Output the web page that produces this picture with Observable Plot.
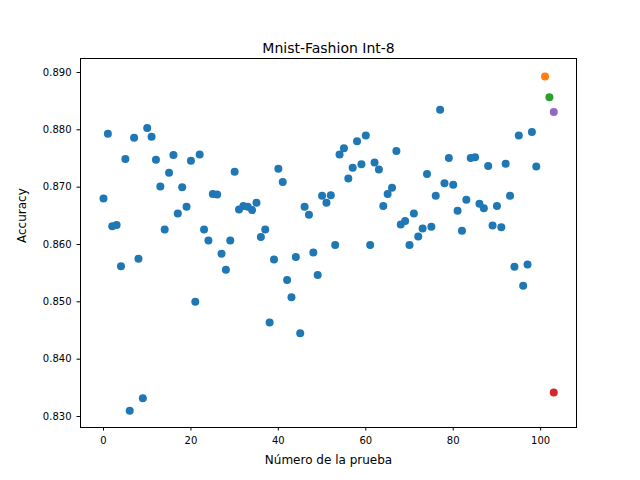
<!DOCTYPE html>
<html><head><meta charset="utf-8">
<script src="https://cdn.jsdelivr.net/npm/d3@7"></script>
<script src="https://cdn.jsdelivr.net/npm/@observablehq/plot@0.6"></script>
<style>body{margin:0;background:#fff}</style>
</head><body><div id="chart"></div>
<script>
const blueAcc = [0.868,0.8793,0.8632,0.8634,0.8562,0.8749,0.8310,0.8786,0.8575,0.8332,
0.8803,0.8788,0.8748,0.8701,0.8626,0.8725,0.8756,0.8654,0.8700,0.8666,
0.8746,0.8500,0.8757,0.8626,0.8607,0.8688,0.8687,0.8584,0.8556,0.8607,
0.8727,0.8661,0.8667,0.8666,0.8660,0.8673,0.8613,0.8626,0.8464,0.8574,
0.8732,0.8709,0.8538,0.8508,0.8578,0.8445,0.8666,0.8652,0.8586,0.8547,
0.8685,0.8673,0.8686,0.8599,0.8757,0.8768,0.8715,0.8734,0.8780,0.8740,
0.8790,0.8599,0.8743,0.8731,0.8667,0.8688,0.8699,0.8763,0.8635,0.8641,
0.8599,0.8654,0.8614,0.8628,0.8723,0.8631,0.8685,0.8835,0.8707,0.8751,
0.8704,0.8659,0.8624,0.8678,0.8751,0.8752,0.8671,0.8663,0.8737,0.8633,
0.8667,0.8630,0.8741,0.8685,0.8561,0.8790,0.8528,0.8565,0.8796,0.8736];
const specialX = [101, 102, 103, 103];
const specialAcc = [0.8893, 0.8857, 0.8831, 0.8342];
const specialColor = ["#ff7f0e", "#2ca02c", "#9467bd", "#d62728"];
const xTicks = [0, 20, 40, 60, 80, 100];
const yTicks = [0.83, 0.84, 0.85, 0.86, 0.87, 0.88, 0.89];

const blue = blueAcc.map((y, i) => ({x: i, y}));
const special = specialX.map((x, i) => ({x, y: specialAcc[i], c: specialColor[i]}));

const chart = Plot.plot({
  width: 640, height: 480,
  marginLeft: 80, marginRight: 64, marginTop: 58, marginBottom: 53,
  style: {fontFamily: "DejaVu Sans", fontSize: "10px", background: "#fff"},
  x: {domain: [-5.26, 108.2], ticks: xTicks, tickSize: 3.5, tickPadding: 4, label: null},
  y: {domain: [0.82808, 0.89244], ticks: yTicks, tickSize: 3.5, tickPadding: 4, tickFormat: d3.format(".3f"), label: null},
  marks: [
    Plot.frame({stroke: "black"}),
    Plot.axisX({ticks: xTicks, tickSize: 3.5, fontSize: 10, color: "black"}),
    Plot.axisY({ticks: yTicks, tickSize: 3.5, tickFormat: d3.format(".3f"), fontSize: 10, color: "black"}),
    Plot.dot(blue, {x: "x", y: "y", r: 4, fill: "#1f77b4", stroke: "none"}),
    Plot.dot(special, {x: "x", y: "y", r: 4, fill: "c", stroke: "none"}),
    Plot.text(["Mnist-Fashion Int-8"], {frameAnchor: "top", dy: -15, fontSize: 14, fill: "black"}),
    Plot.text(["Número de la prueba"], {frameAnchor: "bottom", dy: 36, fontSize: 12, fill: "black"}),
    Plot.text(["Accuracy"], {frameAnchor: "left", dx: -58, rotate: -90, fontSize: 12, fill: "black"})
  ]
});
document.getElementById("chart").appendChild(chart);
</script></body></html>
